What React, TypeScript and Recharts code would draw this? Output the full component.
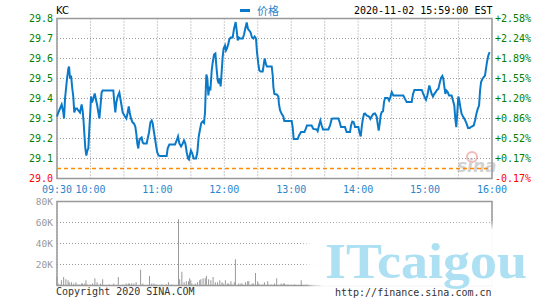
import React from 'react';
import { LineChart, ComposedChart, Line, Bar, XAxis, YAxis, CartesianGrid, ReferenceLine, ReferenceArea } from 'recharts';

const symbol = 'KC';
const seriesName = '价格';
const stamp = '2020-11-02 15:59:00 EST';
const prevClose = 29.05;

// minutes since 09:30
const timeTicks = [0, 30, 60, 90, 120, 150, 180, 210, 240, 270, 300, 330, 360, 390];
const timeLabels = ['09:30', '10:00', '', '11:00', '', '12:00', '', '13:00', '', '14:00', '', '15:00', '', '16:00'];
const priceTicks = [29.0, 29.1, 29.2, 29.3, 29.4, 29.5, 29.6, 29.7, 29.8];
const volTicks = [0, 20, 40, 60, 80];
const volLabels = ['', '20K', '40K', '60K', '80K'];

const priceMinutes = [
  0, 1.2, 2.7, 4.2, 5.7, 6.3, 7.2, 8.1, 9.0, 10.2, 10.8, 11.7, 12.6, 13.7, 14.6, 15.5, 16.7, 17.9, 19.1, 20.6,
  22.1, 23.0, 23.9, 24.5, 25.4, 26.3, 27.2, 28.1, 29.0, 29.9, 30.5, 31.4, 32.6, 33.8, 34.7, 35.9, 37.1, 38.0, 38.8, 40.0,
  40.9, 50.5, 51.4, 52.3, 53.2, 54.4, 55.9, 56.8, 57.7, 58.9, 60.4, 62.2, 63.4, 64.3, 65.2, 66.3, 67.8, 69.0, 70.2, 71.1,
  72.0, 72.9, 73.8, 74.7, 75.9, 76.8, 77.7, 80.4, 81.3, 82.5, 83.7, 84.9, 85.8, 87.0, 87.9, 88.8, 89.9, 91.1,
  92.3, 98.3, 99.2, 100.7, 105.8, 107.3, 108.5, 109.7, 111.2, 112.7, 113.9, 115.1, 116.3, 117.5, 118.3, 119.2, 120.1, 121.3,
  122.5, 124.6, 125.8, 127.0, 128.2, 129.4, 130.6, 131.8, 132.7, 133.3, 133.9, 134.8, 135.7, 136.6, 137.5, 138.7, 139.6,
  140.8, 142.0, 142.9, 144.1, 145.0, 145.8, 146.7, 147.6, 148.5, 149.4, 150.6, 151.5, 152.4, 153.6, 154.5, 155.7, 157.5,
  158.7, 160.2, 161.1, 162.0, 162.9, 164.1, 165.6, 166.5, 167.7, 168.8, 170.1, 171.2, 172.4, 173.6, 174.8, 176.0, 177.2,
  178.4, 179.3, 180.5, 181.4, 182.6, 184.4, 185.3, 186.2, 187.4, 188.3,
  192.5, 193.4, 194.0, 194.9, 197.0, 198.4, 199.0, 199.9, 201.4, 202.9, 203.8, 210.4, 211.3, 212.2, 215.8, 217.0, 218.8,
  221.8, 223.0, 224.1, 228.3, 229.8, 232.8, 233.7, 234.9, 236.1, 237.3, 238.5, 243.3, 244.8, 246.3, 247.7, 252.2, 253.4,
  254.6, 258.2, 259.7, 262.7, 263.6, 264.8, 266.0, 267.2, 270.2, 271.1, 272.3, 273.2, 274.0, 275.2, 276.1, 277.6, 279.7,
  280.9, 282.1, 283.6, 285.1, 286.6, 287.5, 288.4,
  289.3, 290.2, 291.1, 292.3, 293.2, 294.1, 296.5, 297.7, 298.9, 300.1, 301.5, 310.5, 312.0, 313.5, 318.0, 319.2, 320.4,
  327.0, 328.4, 329.9, 330.8, 332.0, 332.9, 333.8, 334.7, 335.9, 337.1, 338.3, 339.5, 340.7, 341.9, 343.1, 344.3, 345.5,
  346.4, 347.3, 348.2, 349.1, 350.3, 351.5, 353.8, 355.0, 356.2, 357.1, 358.0, 358.9, 359.8, 360.7, 361.6, 362.8, 364.3,
  365.8, 367.3, 368.5, 370.0, 371.8, 373.6, 374.8, 376.0, 377.2, 378.4, 379.3, 380.2, 381.4, 382.6, 383.7, 384.6, 385.5,
  386.7, 387.9,
];

const priceValues = [
  29.31, 29.33, 29.35, 29.37, 29.33, 29.30, 29.40, 29.45, 29.50, 29.55, 29.56, 29.50, 29.515, 29.45, 29.41, 29.33, 29.35, 29.35, 29.34, 29.33,
  29.37, 29.34, 29.28, 29.225, 29.15, 29.115, 29.14, 29.15, 29.25, 29.34, 29.41, 29.38, 29.40, 29.425, 29.40, 29.37, 29.33, 29.30, 29.35, 29.43,
  29.44, 29.44, 29.38, 29.33, 29.38, 29.41, 29.43, 29.40, 29.37, 29.33, 29.315, 29.30, 29.33, 29.36, 29.33, 29.30, 29.28, 29.275, 29.26, 29.225,
  29.175, 29.15, 29.19, 29.20, 29.205, 29.18, 29.175, 29.175, 29.20, 29.23, 29.28, 29.29, 29.275, 29.23, 29.20, 29.165, 29.13, 29.115,
  29.112, 29.112, 29.15, 29.17, 29.17, 29.19, 29.21, 29.175, 29.16, 29.175, 29.19, 29.175, 29.13, 29.10, 29.095, 29.12, 29.14, 29.125,
  29.10, 29.10, 29.13, 29.207, 29.245, 29.278, 29.285, 29.278, 29.33, 29.43, 29.52, 29.50, 29.415, 29.46, 29.44, 29.54, 29.58,
  29.62, 29.625, 29.56, 29.49, 29.475, 29.50, 29.46, 29.53, 29.607, 29.65, 29.665, 29.64, 29.65, 29.673, 29.695, 29.705, 29.705,
  29.748, 29.782, 29.74, 29.69, 29.705, 29.70, 29.70, 29.70, 29.72, 29.75, 29.78, 29.748, 29.74, 29.73, 29.705, 29.70, 29.71,
  29.70, 29.632, 29.573, 29.54, 29.535, 29.535, 29.567, 29.60, 29.57, 29.56,
  29.56, 29.515, 29.457, 29.423, 29.42, 29.41, 29.373, 29.343, 29.323, 29.31, 29.287, 29.287, 29.257, 29.198, 29.198, 29.215, 29.232,
  29.232, 29.248, 29.265, 29.265, 29.248, 29.245, 29.237, 29.265, 29.29, 29.265, 29.245, 29.245, 29.265, 29.298, 29.30, 29.30, 29.282,
  29.257, 29.257, 29.232, 29.232, 29.265, 29.285, 29.282, 29.257, 29.257, 29.232, 29.21, 29.257, 29.29, 29.323, 29.325, 29.315, 29.31,
  29.298, 29.31, 29.323, 29.325, 29.31, 29.273, 29.24,
  29.273, 29.315, 29.332, 29.337, 29.382, 29.403, 29.403, 29.39, 29.407, 29.432, 29.415, 29.415, 29.398, 29.382, 29.382, 29.423, 29.443,
  29.443, 29.423, 29.403, 29.393, 29.415, 29.44, 29.465, 29.448, 29.423, 29.41, 29.423, 29.432, 29.443, 29.448, 29.477, 29.503, 29.513,
  29.498, 29.457, 29.423, 29.44, 29.432, 29.415, 29.415, 29.39, 29.365, 29.298, 29.257, 29.332, 29.41, 29.39, 29.357, 29.323, 29.307,
  29.293, 29.273, 29.253, 29.253, 29.26, 29.265, 29.29, 29.323, 29.348, 29.365, 29.44, 29.482, 29.498, 29.507, 29.515, 29.548, 29.582,
  29.615, 29.632,
];

// volume in thousands
const volMinutes = [
  0, 1, 3, 4, 6, 8, 10, 11, 13, 15, 17, 18, 20, 22, 23, 25, 26, 27, 30, 32, 34, 36, 39, 41, 47, 51, 55, 59, 62, 64,
  65, 67, 69, 71, 75, 77, 83, 85, 87, 89, 94, 98, 100, 103, 109, 110, 112, 114, 116, 118, 119, 120, 121, 124, 126, 128,
  129, 131, 133, 134, 136, 138, 140, 142, 144, 146, 148, 149, 151, 153, 154, 156, 157, 159, 160, 163, 165, 166, 169, 171,
  172, 175, 176, 178, 180, 181, 184, 186, 189, 192, 195, 197, 201, 203, 204, 207, 213, 219, 224,
];
const volValues = [
  8, 2, 1, 5, 8, 6, 5, 3, 3, 2, 3, 1, 1, 2, 2, 2, 5, 1, 1, 2, 7, 3, 2, 6, 1, 2, 8, 1, 2, 2,
  2, 2, 2, 3, 15, 2, 9, 2, 2, 1, 1, 1, 3, 1, 63, 6, 13, 3, 4, 4, 7, 5, 2, 2, 3, 5,
  6, 7, 7, 9, 6, 5, 8, 3, 3, 5, 3, 2, 5, 2, 2, 4, 1, 3, 25, 2, 2, 2, 3, 4,
  4, 2, 2, 12, 4, 2, 1, 3, 4, 1, 2, 7, 2, 2, 2, 1, 1, 5, 1,
];

const priceData = priceMinutes.map((m, i) => ({ m, p: priceValues[i] }));
const volData = volMinutes.map((m, i) => ({ m, v: volValues[i] }));

const MONO = '"DejaVu Sans Mono", "Liberation Mono", monospace';
const LINE_BLUE = '#0a7ac8';
const LABEL_BLUE = '#2a86cc';
const GREEN = '#008000';
const RED = '#ff0000';
const FRAME = '#999999';
const GRID = '#999999';

const pct = (v: number) => {
  const d = (v / prevClose - 1) * 100;
  return (d >= 0 ? '+' : '') + d.toFixed(2) + '%';
};

const LeftPriceTick = ({ x, y, payload }: any) => (
  <text x={x} y={y} dy={3.5} textAnchor="end" fontSize={10} fontFamily={MONO}
    fill={payload.value < prevClose ? RED : GREEN}>
    {payload.value.toFixed(1)}
  </text>
);

const RightPctTick = ({ x, y, payload }: any) => (
  <text x={x} y={y} dy={3.5} textAnchor="start" fontSize={10} fontFamily={MONO}
    fill={payload.value < prevClose ? RED : GREEN}>
    {pct(payload.value)}
  </text>
);

const TimeTick = ({ x, y, payload }: any) => {
  const label = timeLabels[timeTicks.indexOf(payload.value)];
  if (!label) return null;
  return (
    <text x={x} y={y} dy={14} textAnchor="middle" fontSize={10} fontFamily={MONO} fill={LABEL_BLUE}>
      {label}
    </text>
  );
};

const VolTick = ({ x, y, payload }: any) => {
  const label = volLabels[volTicks.indexOf(payload.value)];
  if (!label) return null;
  return (
    <text x={x} y={y} dy={3.5} textAnchor="end" fontSize={9.5} fontFamily={MONO} fill="#999">
      {label}
    </text>
  );
};

export default function App() {
  return (
    <div style={{ position: 'absolute', left: 0, top: 0, width: 545, height: 300, background: '#fff', overflow: 'hidden', fontFamily: MONO }}>
      {/* sina logo, behind the chart */}
      <svg width={545} height={300} style={{ position: 'absolute', left: 0, top: 0 }}>
        <circle cx={472} cy={157} r={5} fill="none" stroke="#f3b9b9" strokeWidth={2} />
        <text x={457} y={172} fontSize={17} fontStyle="italic" fontWeight="bold" fontFamily="'DejaVu Sans', sans-serif" fill="#d2d2d2">sina</text>
      </svg>

      <div style={{ position: 'absolute', left: 56, top: 5, fontSize: 10, color: '#000', fontFamily: "'DejaVu Sans', sans-serif" }}>{symbol}</div>
      <div style={{ position: 'absolute', left: 240, top: 9, width: 10, height: 3, background: LINE_BLUE }} />
      <div style={{ position: 'absolute', left: 257, top: 4, fontSize: 11, color: LABEL_BLUE, fontFamily: '"Noto Sans CJK SC", sans-serif', lineHeight: '13px' }}>{seriesName}</div>
      <div style={{ position: 'absolute', left: 354, top: 5, fontSize: 10, color: '#000', lineHeight: '12px' }}>{stamp}</div>

      <div style={{ position: 'absolute', left: 0, top: 0 }}>
        <LineChart width={545} height={200} data={priceData} margin={{ top: 18.5, right: 0, bottom: 0, left: 0 }}>
          <CartesianGrid stroke={GRID} strokeDasharray="1 2" horizontalValues={priceTicks} />
          <XAxis dataKey="m" type="number" domain={[0, 390]} ticks={timeTicks} interval={0}
            tickLine={false} axisLine={false} tickSize={0} tickMargin={0} height={21.5} tick={<TimeTick />} />
          <YAxis type="number" domain={[29.0, 29.8]} ticks={priceTicks} interval={0}
            tickLine={false} axisLine={false} tickSize={0} tickMargin={4} width={57} tick={<LeftPriceTick />} />
          <YAxis yAxisId="right" orientation="right" type="number" domain={[29.0, 29.8]} ticks={priceTicks} interval={0}
            tickLine={false} axisLine={false} tickSize={0} tickMargin={3} width={53} tick={<RightPctTick />} />
          <ReferenceArea x1={0} x2={390} y1={29.0} y2={29.8} fill="none" stroke={FRAME} strokeWidth={1.5} />
          <ReferenceLine y={prevClose} stroke="#ff8c00" strokeWidth={1.5} strokeDasharray="4 3" />
          <Line yAxisId="right" dataKey="p" stroke="none" dot={false} isAnimationActive={false} />
          <Line type="linear" dataKey="p" stroke={LINE_BLUE} strokeWidth={2} dot={false} isAnimationActive={false} />
        </LineChart>
      </div>

      <div style={{ position: 'absolute', left: 0, top: 190 }}>
        <ComposedChart width={545} height={100} data={volData} margin={{ top: 11.5, right: 53, bottom: 4.5, left: 0 }}>
          <CartesianGrid stroke={GRID} strokeDasharray="1 2" />
          <XAxis dataKey="m" type="number" domain={[0, 390]} ticks={timeTicks} interval={0}
            tick={false} tickLine={false} axisLine={false} height={0} />
          <YAxis type="number" domain={[0, 80]} ticks={volTicks} interval={0}
            tickLine={false} axisLine={false} tickSize={0} tickMargin={4} width={57} tick={<VolTick />} />
          <ReferenceArea x1={0} x2={390} y1={0} y2={80} fill="none" stroke={FRAME} strokeWidth={1.5} />
          <Bar dataKey="v" fill="#999" barSize={1} isAnimationActive={false} />
        </ComposedChart>
      </div>

      <div style={{ position: 'absolute', left: 56, top: 286, fontSize: 10, color: '#333', lineHeight: '12px' }}>Copyright 2020 SINA.COM</div>

      {/* watermark overlay */}
      <div style={{ position: 'absolute', left: 310, top: 229, width: 240, height: 57, background: 'rgba(255,255,255,0.96)', borderRadius: 12, boxShadow: '0 0 6px 4px rgba(255,255,255,0.9)' }} />
      <svg width={545} height={300} style={{ position: 'absolute', left: 0, top: 0 }}>
        <text x={325} y={278} fontSize={50} fontWeight="bold" fontFamily="'Liberation Serif', serif" fill="#ade0f2"
          textLength={202} lengthAdjust="spacingAndGlyphs">ITcaigou</text>
      </svg>
      <div style={{ position: 'absolute', left: 335, top: 287, fontSize: 10, color: '#333', lineHeight: '12px' }}>http://finance.sina.com.cn</div>
    </div>
  );
}
